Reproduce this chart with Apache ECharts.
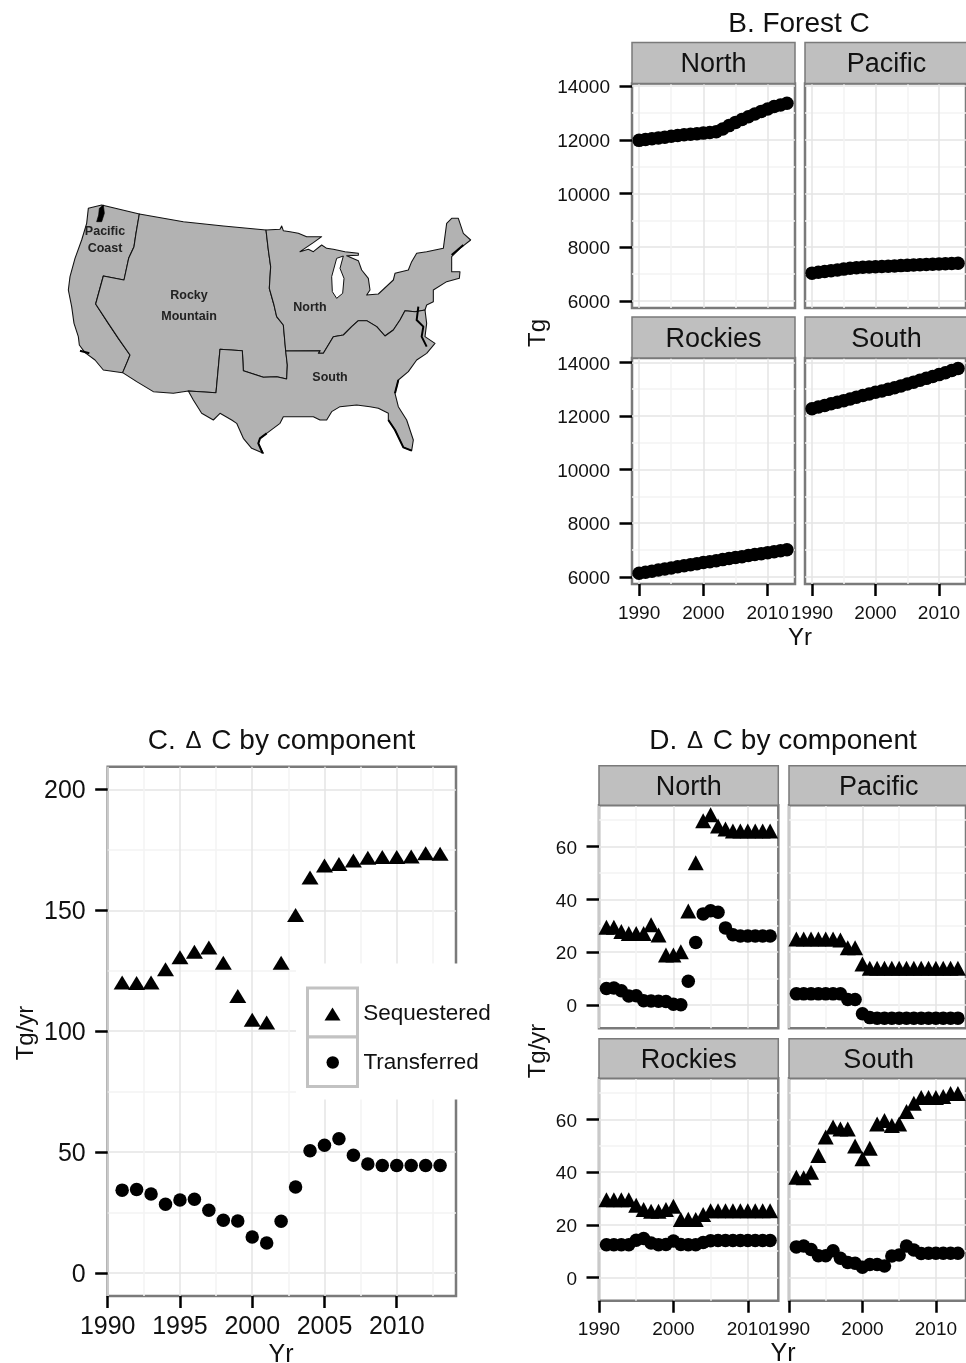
<!DOCTYPE html>
<html><head><meta charset="utf-8">
<script src="https://cdn.jsdelivr.net/npm/echarts@6/dist/echarts.min.js"></script>
<style>html,body{margin:0;padding:0;background:#fff}#c{width:966px;height:1363px}</style>
</head><body><div id="c"></div>
<script>
const FONT = '"Liberation Sans", Arial, sans-serif';
// ---------- data ----------
const stockYears = [1990,1991,1992,1993,1994,1995,1996,1997,1998,1999,2000,2001,2002,2003,2004,2005,2006,2007,2008,2009,2010,2011,2012,2013];
const flowYears = [1991,1992,1993,1994,1995,1996,1997,1998,1999,2000,2001,2002,2003,2004,2005,2006,2007,2008,2009,2010,2011,2012,2013];
const stockNorth = [11980,12010,12040,12070,12100,12130,12160,12190,12210,12230,12250,12270,12300,12400,12530,12650,12760,12860,12960,13060,13150,13240,13300,13360];
const stockPacific = [7030,7060,7090,7120,7150,7180,7210,7230,7250,7260,7270,7280,7290,7300,7310,7320,7330,7340,7350,7360,7370,7380,7390,7400];
const stockRockies = [6130,6170,6210,6250,6290,6330,6370,6410,6450,6490,6530,6560,6600,6640,6680,6720,6750,6790,6830,6860,6900,6930,6970,7010];
const stockSouth = [12270,12330,12390,12450,12510,12570,12630,12700,12760,12820,12880,12930,12990,13050,13120,13190,13260,13330,13400,13470,13540,13610,13690,13770];
const totalSeq = [120.1,119.9,120.1,125.6,130.6,132.8,134.6,128.3,114.5,104.7,103.6,128.3,148,163.6,168.5,169.1,170.6,171.7,172,172,172.2,173.6,173.4];
const totalTrans = [34.2,34.5,32.6,28.4,30.1,30.4,25.9,21.7,21.4,14.8,12.3,21.3,35.5,50.5,52.8,55.5,48.6,45,44.4,44.4,44.4,44.4,44.4];
const northSeq = [29.4,29.4,27.8,27.1,27.1,27.1,30.4,26.5,18.9,18.9,20.2,35.6,53.9,69.8,72.1,67.8,66.7,65.9,65.9,65.9,65.9,65.9,65.9];
const northTrans = [6.2,6.4,5.4,3.4,3.5,1.6,1.5,1.4,1.3,0.3,0.1,9,23.7,34.5,35.7,35.1,29.2,26.6,26.1,26.1,26.1,26.1,26.1];
const pacificSeq = [25,25,25,25,25,25,24.6,21.7,21.7,15.5,13.9,13.9,13.9,13.9,13.9,13.9,13.9,13.9,13.9,13.9,13.9,13.9,13.9];
const pacificTrans = [4.2,4.2,4.2,4.2,4.2,4.2,4.2,2.1,2.1,-3.3,-4.8,-5,-5,-5,-5,-5,-5,-5,-5,-5,-5,-5,-5];
const rockiesSeq = [29.5,29.5,29.5,29.5,27.4,25.8,25.1,25.1,25.8,27,22,22.1,22,23.9,25.3,25.3,25.3,25.3,25.3,25.3,25.3,25.3,25.3];
const rockiesTrans = [12.4,12.4,12.4,12.4,14.1,14.8,13.1,12.4,12.5,13.8,12.5,12.4,12.4,13.3,13.9,14,14,14,14,14,14,14,14];
const southSeq = [38.1,37.9,40,46.3,53.3,57.1,56.4,56.4,49.9,45.1,49.1,58.3,59.6,57.7,58.3,63,66.2,68.4,68.4,68.4,68.7,69.9,69.9];
const southTrans = [11.6,11.9,10.6,8.2,8.2,10.1,7.3,5.7,5.4,3.9,4.9,4.9,4.3,8.1,8.5,11.9,10.4,9.1,9.2,9.2,9.2,9.2,9.2];
const stockTicks = [6000,8000,10000,12000,14000];
const stockMinor = [7000,9000,11000,13000];
const facetYearTicks = [1990,2000,2010];
const facetYearMinor = [1995,2005];
const flowTicks = [0,20,40,60];
const flowMinor = [10,30,50,70];
const totalYearTicks = [1990,1995,2000,2005,2010];
const totalYearMinor = [1992.5,1997.5,2002.5,2007.5,2012.5];
const totalTicks = [0,50,100,150,200];
const totalMinor = [25,75,125,175];
const SEQ = 'Sequestered', TRANS = 'Transferred';
const TRI_PATH = 'path://M8 0L16 13L0 13Z';
// ---------- map outline (illustration) ----------
const mapPacific = [[115,55],[155,45],[268,72],[258,130],[252,170],[236,205],[222,270],[160,258],[137,342],[175,400],[205,445],[240,495],[232,515],[218,548],[160,540],[135,510],[105,488],[88,465],[85,440],[72,400],[65,350],[55,300],[60,260],[75,205],[95,150],[110,100]];
const mapRocky = [[268,72],[400,95],[520,108],[648,120],[655,180],[662,230],[658,295],[672,345],[680,380],[700,405],[707,480],[712,525],[710,567],[680,560],[640,562],[610,552],[580,542],[577,482],[510,478],[498,608],[415,603],[370,610],[310,605],[260,575],[218,548],[232,515],[240,495],[205,445],[175,400],[137,342],[160,258],[222,270],[236,205],[252,170],[258,130]];
const mapNorth = [[648,120],[690,118],[695,108],[700,122],[720,125],[745,130],[770,140],[815,140],[790,158],[750,185],[775,178],[790,185],[815,165],[830,175],[850,178],[885,185],[925,190],[925,196],[890,197],[925,212],[935,240],[955,265],[960,300],[950,315],[985,312],[1030,270],[1035,250],[1075,240],[1085,215],[1100,190],[1130,185],[1180,175],[1190,100],[1205,85],[1225,85],[1240,130],[1262,150],[1230,175],[1205,200],[1205,245],[1230,245],[1228,265],[1190,275],[1150,300],[1150,335],[1130,345],[1125,360],[1095,365],[1065,362],[1050,390],[1030,420],[1005,438],[980,410],[950,392],[925,392],[905,410],[880,435],[850,440],[835,465],[820,490],[805,490],[810,482],[707,483],[700,405],[680,380],[672,345],[658,295],[662,230],[655,180]];
const mapSouth = [[707,483],[810,482],[805,490],[820,490],[835,465],[850,440],[880,435],[905,410],[925,392],[950,392],[980,410],[1005,438],[1030,420],[1050,390],[1065,362],[1095,365],[1125,360],[1130,400],[1125,440],[1155,460],[1130,490],[1100,510],[1075,545],[1045,570],[1035,610],[1045,650],[1070,690],[1090,750],[1085,782],[1060,772],[1035,720],[1015,690],[1015,670],[985,655],[960,650],[920,645],[870,650],[845,665],[830,690],[810,690],[790,680],[700,680],[690,700],[650,730],[630,745],[625,760],[640,790],[605,775],[580,745],[560,700],[545,690],[510,670],[490,690],[455,670],[430,630],[415,603],[498,608],[510,478],[577,482],[580,542],[610,552],[640,562],[680,560],[710,567],[712,525]];
const mapLake = [[860,205],[880,198],[870,235],[882,265],[878,310],[860,325],[847,305],[845,260]];
const mapPuget = [[148,55],[160,45],[163,70],[155,95],[140,95],[146,75]];
const mapCoastlines = [[[1105,350],[1100,390],[1120,410],[1115,440],[1130,470]],[[1015,690],[1035,720],[1060,772],[1085,782]],[[1205,195],[1240,165]],[[650,730],[630,745],[625,760],[638,790]],[[1045,570],[1035,610]],[[90,482],[118,490]]];

const grids=[],xAxes=[],yAxes=[],series=[],graphics=[];
const BORDER='#7a7a7a', MAJ='#e4e4e4', MINL='#f3f3f3';
function panel(p){
  const g=grids.length;
  grids.push({left:p.x,top:p.y,width:p.w,height:p.h,show:true,borderColor:BORDER,borderWidth:2.5,backgroundColor:'#fff',containLabel:false});
  const mk=(pos,min,max,maj,minr,showLab,fs,m,tl,extra)=>[
    {gridIndex:g,type:'value',position:pos,min,max,axisLine:{show:false,onZero:false},
     axisTick:{show:false,customValues:minr},axisLabel:{show:false,customValues:minr},
     splitLine:{show:true,lineStyle:{color:MINL,width:1.5}}},
    {gridIndex:g,type:'value',position:pos,min,max,axisLine:{show:false,onZero:false},
     axisTick:{show:showLab,customValues:maj,length:tl,lineStyle:{color:'#000',width:2.5}},
     axisLabel:{show:showLab,customValues:maj,fontFamily:FONT,fontSize:fs,color:'#111',margin:m,hideOverlap:false,showMinLabel:true,showMaxLabel:true,formatter:v=>String(v),...extra},
     splitLine:{show:true,lineStyle:{color:MAJ,width:1.5}}}];
  const xi=xAxes.length, yi=yAxes.length;
  xAxes.push(...mk('bottom',p.xMin,p.xMax,p.xTicks,p.xMinor,p.xLabels,p.fs,p.xm,12,{}));
  yAxes.push(...mk('left',p.yMin,p.yMax,p.yTicks,p.yMinor,p.yLabels,p.fs,p.ym,12.5,{verticalAlign:'top',lineHeight:4}));
  p.marks.forEach(m=>series.push({type:'scatter',name:m.name,xAxisIndex:xi+1,yAxisIndex:yi+1,
    symbol:m.symbol,symbolSize:m.size,silent:true,clip:false,z:3,
    itemStyle:{color:'#000',opacity:1},data:m.xs.map((x,i)=>[x,m.ys[i]])}));
  if(p.strip){
    graphics.push({type:'rect',shape:{x:p.x,y:p.y-p.sh,width:p.w,height:p.sh},style:{fill:'#bfbfbf',stroke:BORDER,lineWidth:1.5},z:1});
    graphics.push({type:'text',style:{x:p.x+p.w/2,y:p.y-p.sh/2+2,text:p.strip,font:'27px '+FONT,fill:'#111',textAlign:'center',textVerticalAlign:'middle'},z:2});
  }
}
const stockMark=(ys)=>[{name:'Forest C',symbol:'circle',size:13.5,xs:stockYears,ys}];
const flowMark=(s,t)=>[{name:SEQ,symbol:'triangle',size:[16,15],xs:flowYears,ys:s},{name:TRANS,symbol:'circle',size:13.5,xs:flowYears,ys:t}];

// Panel B
const bBase={w:163,xMin:1988.9,xMax:2014.25,yMin:5730,yMax:14100,xTicks:facetYearTicks,xMinor:facetYearMinor,yTicks:stockTicks,yMinor:stockMinor,fs:19,xm:20,ym:22,sh:41};
panel({...bBase,x:632,y:83.5,h:224.5,strip:'North',xLabels:false,yLabels:true,marks:stockMark(stockNorth)});
panel({...bBase,x:805,y:83.5,h:224.5,strip:'Pacific',xLabels:false,yLabels:false,marks:stockMark(stockPacific)});
panel({...bBase,x:632,y:358,h:226,yMin:5730,yMax:14160,strip:'Rockies',xLabels:true,yLabels:true,marks:stockMark(stockRockies)});
panel({...bBase,x:805,y:358,h:226,yMin:5730,yMax:14160,strip:'South',xLabels:true,yLabels:false,marks:stockMark(stockSouth)});
// Panel C
panel({x:107.7,y:766.7,w:348.3,h:529.3,xMin:1990,xMax:2014.1,yMin:-9.6,yMax:209.4,xTicks:totalYearTicks,xMinor:totalYearMinor,yTicks:totalTicks,yMinor:totalMinor,fs:25,xm:19,ym:22,xLabels:true,yLabels:true,
  marks:[{name:SEQ,symbol:'triangle',size:[17,14],xs:flowYears,ys:totalSeq},{name:TRANS,symbol:'circle',size:13.5,xs:flowYears,ys:totalTrans}]});
// Panel D
const dBase={w:179.3,xMin:1990,xMax:2014.1,yMin:-8.85,yMax:75.65,xTicks:facetYearTicks,xMinor:facetYearMinor,yTicks:flowTicks,yMinor:flowMinor,fs:19,xm:20,ym:22,sh:39.5};
panel({...dBase,x:599,y:805.3,h:223,strip:'North',xLabels:false,yLabels:true,marks:flowMark(northSeq,northTrans)});
panel({...dBase,x:789,y:805.3,h:223,strip:'Pacific',xLabels:false,yLabels:false,marks:flowMark(pacificSeq,pacificTrans)});
panel({...dBase,x:599,y:1078.3,h:222.4,strip:'Rockies',xLabels:true,yLabels:true,marks:flowMark(rockiesSeq,rockiesTrans)});
panel({...dBase,x:789,y:1078.3,h:222.4,strip:'South',xLabels:true,yLabels:false,marks:flowMark(southSeq,southTrans)});

// axis titles
function axisText(t,x,y,size,rot){graphics.push({type:'text',x,y,rotation:rot?Math.PI/2:0,style:{text:t,font:size+'px '+FONT,fill:'#111',textAlign:'center',textVerticalAlign:'middle'},z:2});}
axisText('Yr',800,638.5,24);
axisText('Tg',538,333,24,true);
axisText('Yr',281,1355,25);
axisText('Tg/yr',26,1033,24,true);
axisText('Yr',783,1354,25);
axisText('Tg/yr',538,1051,24,true);

// legend box of panel C
graphics.push({type:'rect',shape:{x:296,y:963.5,width:204,height:136},style:{fill:'#fff'},z:20});
graphics.push({type:'rect',shape:{x:307.5,y:988,width:50,height:49},style:{fill:'#fff',stroke:'#c2c2c2',lineWidth:3},z:21});
graphics.push({type:'rect',shape:{x:307.5,y:1037,width:50,height:49.5},style:{fill:'#fff',stroke:'#c2c2c2',lineWidth:3},z:21});
const legendBase={orient:'vertical',itemWidth:51.3,itemGap:0,z:30,selectedMode:false,textStyle:{fontFamily:FONT,fontSize:22.5,color:'#111'}};

// map
const mapG={type:'group',x:50,y:190,scaleX:1/3,scaleY:1/3,children:[]};
[mapPacific,mapRocky,mapNorth,mapSouth].forEach(pts=>mapG.children.push({type:'polygon',shape:{points:pts},style:{fill:'#b2b2b2',stroke:'#111',lineWidth:3.2,lineJoin:'round'}}));
mapG.children.push({type:'polygon',shape:{points:mapLake},style:{fill:'#fff',stroke:'#111',lineWidth:3}});
mapG.children.push({type:'polygon',shape:{points:mapPuget},style:{fill:'#000',stroke:'#000',lineWidth:2}});
mapCoastlines.forEach(pts=>mapG.children.push({type:'polyline',shape:{points:pts},style:{fill:null,stroke:'#000',lineWidth:6,lineJoin:'round'}}));
graphics.push(mapG);
[['Pacific',105,232],['Coast',105,249],['Rocky',189,296],['Mountain',189,317],['North',310,308],['South',330,378]].forEach(t=>
  graphics.push({type:'text',x:t[1],y:t[2],style:{text:t[0],font:'bold 12.5px '+FONT,fill:'#222',textAlign:'center',textVerticalAlign:'middle'},z:3}));

const ttl=(text,x,y)=>({text,left:x,top:y,textAlign:'center',textStyle:{fontFamily:FONT,fontSize:28,fontWeight:'normal',color:'#111',rich:{d:{fontFamily:FONT,fontSize:24,color:'#111',padding:[0,2,0,2]}}},padding:0});
const option={
  animation:false,backgroundColor:'#fff',
  title:[ttl('B. Forest C',799,10),ttl('C. {d|\u0394} C by component',281.5,727),ttl('D. {d|\u0394} C by component',783,727)],
  legend:[
    {...legendBase,left:319.5,top:997.5,itemHeight:13,data:[{name:SEQ,icon:TRI_PATH}]},
    {...legendBase,left:321.5,top:1046,itemHeight:12.5,data:[{name:TRANS,icon:'circle'}]}
  ],
  grid:grids,xAxis:xAxes,yAxis:yAxes,series,graphic:{elements:graphics}
};
echarts.init(document.getElementById('c'),null,{renderer:'canvas'}).setOption(option);
</script></body></html>
